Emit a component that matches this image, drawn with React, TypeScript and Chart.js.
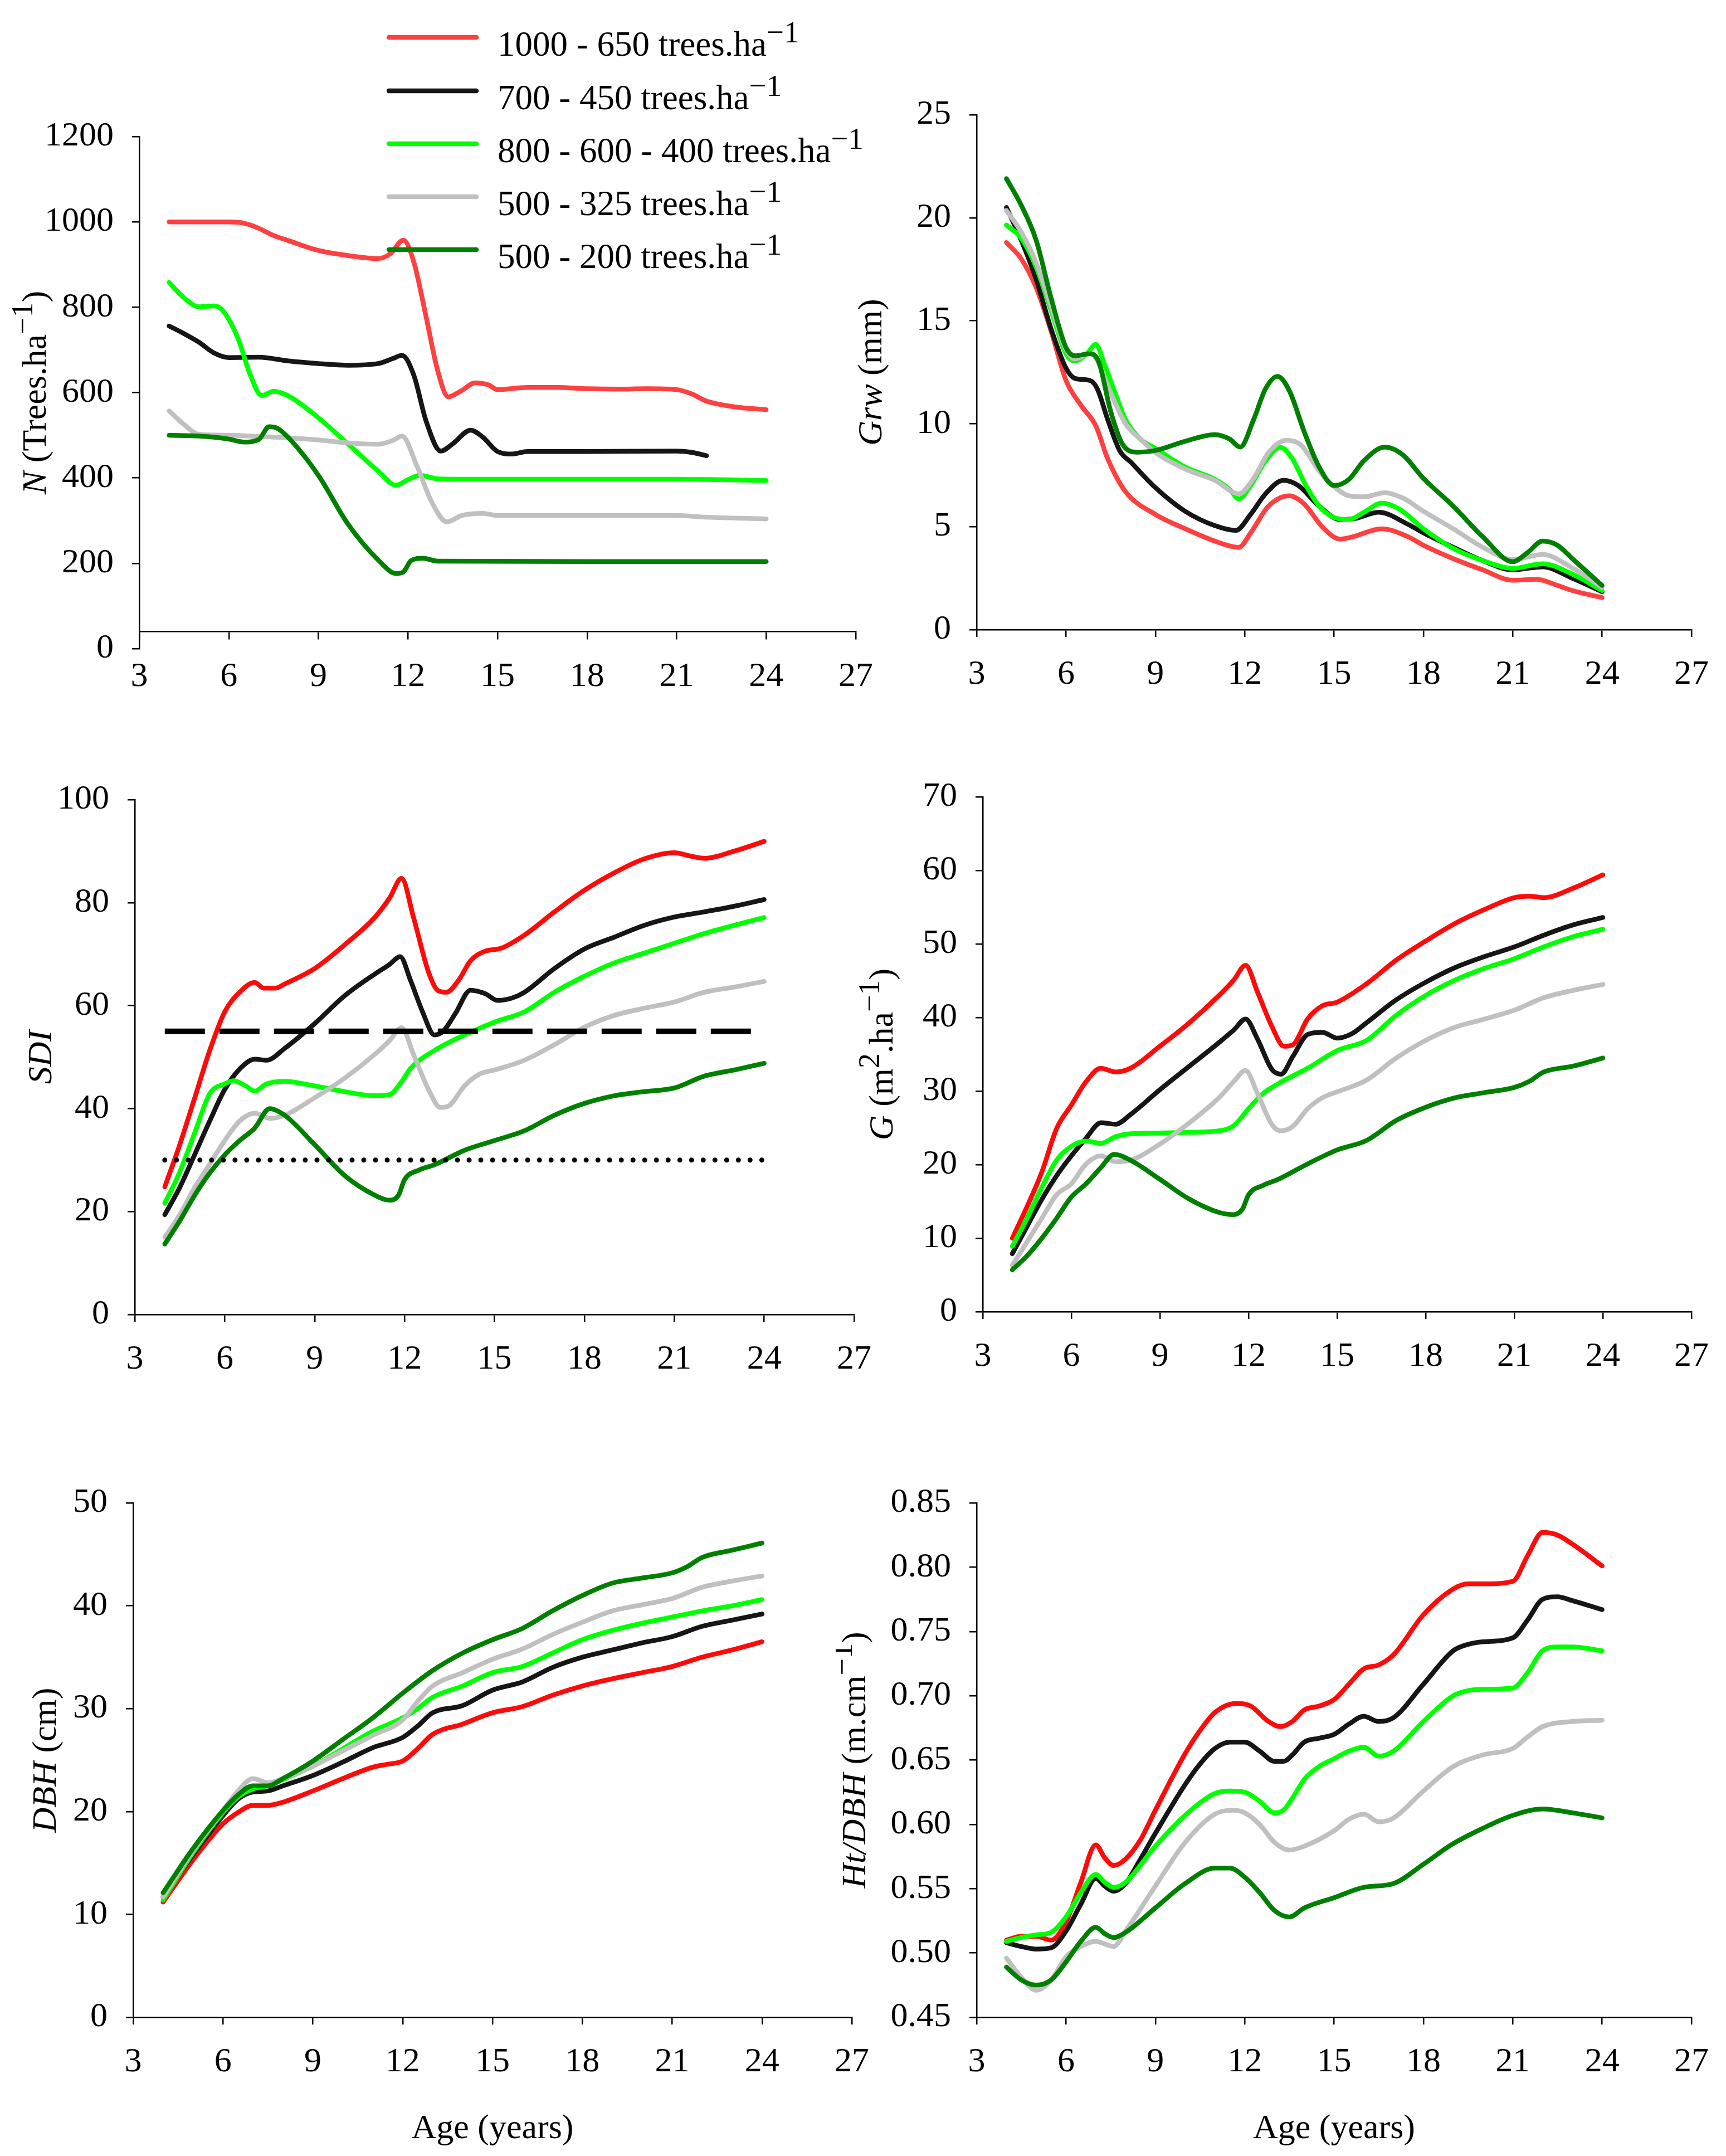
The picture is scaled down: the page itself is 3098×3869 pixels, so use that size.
import React, { useEffect, useRef } from 'react';
import { Chart, registerables } from 'chart.js';

Chart.register(...registerables);

type Pt = [number, number];
type Seg = { t: string; it?: boolean; sup?: boolean };

const FONT = '"Liberation Serif", "Times New Roman", serif';
const TICK_SIZE = 62;
const TITLE_SIZE = 62;
const LEGEND_SIZE = 63;
const LINE_W = 8.5;

// ---------- categories / legend ----------
const SERIES_NAMES = [
  '1000 - 650 trees.ha',
  '700 - 450 trees.ha',
  '800 - 600 - 400 trees.ha',
  '500 - 325 trees.ha',
  '500 - 200 trees.ha',
];
const SERIES_COLORS = ['#ff4040', '#161616', '#00ff00', '#c0c0c0', '#008000'];
const AGE_MIN = 3;
const AGE_MAX = 27;
const AGE_STEP = 3;

// ---------- N (trees/ha) ----------
const nRed: Pt[] = [[4,1000],[5,1000],[6,1000],[6.5,997],[7,985],[7.5,968],[8,956],[9,933],[10,921],[11,914],[11.4,925],[11.85,957],[12.2,905],[12.6,780],[13,650],[13.35,590],[13.8,605],[14.25,623],[14.7,618],[15,607],[16,612],[17,612],[18,609],[19,608],[20,609],[21,607],[21.5,597],[22,580],[23,566],[24,560]];
const nBlack: Pt[] = [[4,756],[4.5,738],[5,718],[5.5,693],[6,682],[7,683],[8,674],[9,668],[10,664],[11,668],[11.5,680],[11.8,687],[12.2,640],[12.6,535],[13.1,463],[13.5,480],[14.1,512],[14.5,496],[15,462],[15.5,456],[16,462],[18,462],[21,463],[21.5,460],[22,452]];
const nLime: Pt[] = [[4,858],[4.5,822],[5,801],[5.5,803],[5.8,792],[6.3,728],[6.7,645],[7.1,593],[7.5,603],[8,592],[9,541],[10,479],[11,416],[11.6,383],[12,396],[12.4,406],[13,398],[14,397],[18,397],[21,397],[24,394]];
const nGray: Pt[] = [[4,557],[4.5,525],[5,502],[6,500],[7,497],[8,494],[9,489],[10,482],[11,479],[11.5,488],[11.8,498],[12.3,428],[12.8,343],[13.3,297],[13.8,312],[14.5,317],[15,312],[18,312],[21,312],[22,308],[24,304]];
const nDark: Pt[] = [[4,500],[5,498],[6,491],[6.5,484],[7,490],[7.35,520],[7.6,517],[8,494],[9,406],[10,291],[11,208],[11.6,176],[11.85,180],[12.1,206],[12.5,212],[13,205],[18,204],[24,204]];

// ---------- Grw (mm) ----------
const gRed: Pt[] = [[4,18.8],[4.5,18.0],[5,16.6],[5.5,14.5],[6,12.1],[6.5,10.9],[7,9.9],[7.4,8.3],[8,6.7],[9,5.6],[10,4.9],[11,4.3],[11.8,4.0],[12.2,4.7],[12.8,6.0],[13.5,6.5],[14,6.1],[14.6,5.0],[15.2,4.4],[15.6,4.5],[16.6,4.9],[17.5,4.5],[18,4.1],[19,3.45],[20,2.9],[21,2.4],[21.8,2.45],[22.5,2.15],[23,1.9],[24,1.56]];
const gBlack: Pt[] = [[4,20.5],[4.5,18.9],[5,17.0],[5.5,14.6],[6,12.7],[6.3,12.2],[6.8,12.1],[7.05,11.7],[7.4,10.2],[7.8,8.7],[8.2,8.1],[9,6.9],[10,5.75],[11,5.05],[11.7,4.82],[12.2,5.6],[12.7,6.6],[13.3,7.25],[13.8,7.0],[14.5,6.0],[15.2,5.35],[15.7,5.4],[16.5,5.7],[17.5,5.1],[18,4.7],[19,4.0],[20,3.35],[21,2.9],[21.5,2.98],[22,3.05],[23,2.5],[24,1.84]];
const gLime: Pt[] = [[4,19.65],[4.5,19.0],[5,17.6],[5.5,15.5],[6,13.4],[6.3,13.05],[6.7,13.4],[7,13.85],[7.3,12.85],[7.7,11.3],[8,10.2],[8.5,9.25],[9,8.8],[10,7.9],[11,7.3],[11.5,6.8],[11.8,6.35],[12.2,7.0],[12.7,8.2],[13.2,8.85],[13.6,8.3],[14,7.15],[14.5,6.0],[15,5.45],[15.5,5.35],[16,5.7],[16.6,6.15],[17.2,5.85],[18,4.9],[19,3.95],[20,3.35],[21,2.98],[22,3.2],[23,2.7],[24,1.9]];
const gGray: Pt[] = [[4,20.35],[4.5,19.3],[5,17.8],[5.5,15.7],[6,13.6],[6.3,13.15],[6.8,13.4],[7,13.2],[7.5,11.5],[8,10.0],[8.5,9.25],[9,8.6],[10,7.8],[11,7.25],[11.8,6.6],[12.3,7.35],[12.8,8.6],[13.4,9.2],[13.9,8.95],[14.5,7.7],[15,6.95],[15.5,6.5],[16,6.45],[16.7,6.65],[17.3,6.4],[18,5.75],[19,4.9],[20,4.0],[21,3.4],[22,3.65],[23,3.0],[24,2.05]];
const gDark: Pt[] = [[4,21.9],[4.5,20.6],[5,18.9],[5.5,16.1],[6,13.7],[6.3,13.3],[6.8,13.4],[7.1,13.0],[7.5,10.6],[7.9,9.0],[8.4,8.62],[9,8.7],[10,9.15],[11,9.47],[11.5,9.25],[11.85,8.87],[12.3,10.2],[12.7,11.7],[13.1,12.3],[13.5,11.6],[14,9.6],[14.5,7.9],[15,7.0],[15.5,7.3],[16,8.2],[16.7,8.87],[17.3,8.5],[18,7.35],[19,6.0],[20,4.5],[21,3.3],[21.5,3.75],[22,4.3],[22.5,4.1],[23,3.45],[24,2.15]];

// ---------- SDI ----------
const sRed: Pt[] = [[4,24.8],[4.5,33],[5,42.1],[5.5,51.3],[6,58.8],[6.5,62.6],[7,64.5],[7.3,63.4],[7.7,63.4],[8,64.2],[9,67.2],[10,71.8],[11,77.1],[11.5,80.9],[11.9,84.7],[12.3,77.1],[12.8,66.5],[13.1,63],[13.4,62.6],[13.8,64.9],[14.2,68.7],[14.7,70.6],[15.2,71.1],[16,73.7],[17,78.2],[18,82.4],[19,85.8],[20,88.5],[21,89.7],[21.5,89.1],[22,88.6],[23,90],[24,91.9]];
const sBlack: Pt[] = [[4,19.4],[4.5,24.7],[5,31.1],[5.5,37.6],[6,43.7],[6.5,47.7],[7,49.6],[7.4,49.4],[8,51.7],[9,56.5],[10,61.9],[11,66.1],[11.5,68],[11.85,69.5],[12.2,64.9],[12.6,58.8],[13,54.3],[13.3,55.1],[13.7,58.5],[14.2,63],[14.7,62.3],[15.1,61],[15.6,61.5],[16,62.6],[17,67.2],[18,71],[19,73.3],[20,75.6],[21,77.2],[22,78.2],[23,79.3],[24,80.6]];
const sLime: Pt[] = [[4,21.6],[4.5,27.7],[5,35.3],[5.5,42.9],[6,44.8],[6.3,45.4],[6.7,44.4],[7,43.4],[7.4,44.8],[8,45.3],[9,44.4],[10,43.3],[11,42.5],[11.5,42.7],[11.9,45.2],[12.2,47.8],[13,51.3],[14,54.3],[15,56.8],[16,58.8],[17,62.6],[18,65.7],[19,68.3],[20,70.2],[21,72.1],[22,74],[23,75.6],[24,77.1]];
const sGray: Pt[] = [[4,15],[4.5,19.4],[5,24.7],[5.5,29.2],[6,33.8],[6.5,37.6],[7,39.1],[7.5,38.1],[8,38.7],[9,42.1],[10,45.9],[11,50.5],[11.5,53.2],[11.9,55.7],[12.3,50.5],[12.8,43.7],[13.2,40.2],[13.5,40.6],[14,44.4],[14.5,46.7],[15,47.5],[16,49.4],[17,52.4],[18,55.8],[19,58.1],[20,59.5],[21,60.7],[22,62.6],[23,63.6],[24,64.7]];
const sDark: Pt[] = [[4,13.7],[4.5,18.2],[5,23.2],[5.5,27.5],[6,31],[6.5,33.8],[7,36.2],[7.5,40],[8,38.7],[9,33],[10,27],[11,23.2],[11.5,22.2],[11.8,23.2],[12,26.2],[12.5,28.1],[13,29.1],[14,31.9],[15,33.8],[16,35.7],[17,38.7],[18,41],[19,42.5],[20,43.3],[21,44],[22,46.3],[23,47.5],[24,48.8]];
const sdiUpper: Pt[] = [[4,55],[24,55]];
const sdiLower: Pt[] = [[4,30],[24,30]];

// ---------- G (m2/ha) ----------
const bRed: Pt[] = [[4,10],[4.5,14.3],[5,19],[5.5,24.9],[6,28.1],[6.5,31.3],[7,33.1],[7.5,32.6],[8,33.1],[9,36.1],[10,39.3],[11,43],[11.5,45.1],[11.9,47.1],[12.3,43.5],[12.8,38.7],[13.2,36.1],[13.5,36.3],[14,39.8],[14.5,41.6],[15,42.1],[16,44.6],[17,47.8],[18,50.4],[19,52.8],[20,54.7],[21,56.3],[21.5,56.5],[22,56.3],[23,57.6],[24,59.4]];
const bBlack: Pt[] = [[4,7.9],[4.5,11.6],[5,15.3],[5.5,18.5],[6,21.2],[6.5,23.6],[7,25.7],[7.5,25.5],[8,26.8],[9,30.2],[10,33.4],[11,36.6],[11.5,38.3],[11.9,39.8],[12.3,37.1],[12.8,32.9],[13.1,32.3],[13.5,34.7],[14,37.7],[14.5,38],[15,37.2],[15.5,37.8],[16,39.3],[17,42.4],[18,44.8],[19,46.8],[20,48.3],[21,49.6],[22,51.2],[23,52.6],[24,53.6]];
const bLime: Pt[] = [[4,8.9],[4.5,12.7],[5,16.9],[5.5,20.6],[6,22.5],[6.5,23.2],[7,22.9],[7.5,23.8],[8,24.2],[9,24.3],[10,24.4],[11,24.6],[11.5,25.3],[12,27.6],[12.5,29.7],[13,31],[14,33.1],[15,35.5],[16,36.9],[17,40.3],[18,43],[19,45.1],[20,46.7],[21,48],[22,49.6],[23,51],[24,52]];
const bGray: Pt[] = [[4,6.3],[4.5,9.5],[5,12.7],[5.5,15.9],[6,17.4],[6.5,20.1],[7,21.2],[7.5,20.4],[8,20.6],[9,22.8],[10,25.7],[11,29.1],[11.5,31.3],[11.9,32.8],[12.3,29.7],[12.8,25.4],[13.1,24.6],[13.5,25.2],[14,27.6],[14.5,29.1],[15,29.9],[16,31.5],[17,34.5],[18,36.9],[19,38.7],[20,39.8],[21,41],[22,42.7],[23,43.7],[24,44.5]];
const bDark: Pt[] = [[4,5.7],[4.5,7.6],[5,10],[5.5,12.7],[6,15.6],[6.5,17.4],[7,19.6],[7.45,21.4],[8,20.6],[9,18],[10,15.3],[11,13.5],[11.5,13.2],[11.8,14],[12,15.9],[12.5,17.2],[13,18],[14,20.1],[15,22],[16,23.3],[17,26],[18,27.8],[19,29.1],[20,29.8],[21,30.5],[21.5,31.3],[22,32.6],[23,33.4],[24,34.5]];

// ---------- DBH (cm) ----------
const dRed: Pt[] = [[4,11.2],[5,15.3],[6,18.8],[6.5,19.9],[7,20.6],[7.5,20.6],[8,20.9],[9,22],[10,23.2],[11,24.3],[11.5,24.6],[12,24.9],[12.5,26.1],[13,27.5],[14,28.5],[15,29.6],[16,30.2],[17,31.3],[18,32.2],[19,32.9],[20,33.5],[21,34.1],[22,35],[23,35.7],[24,36.5]];
const dBlack: Pt[] = [[4,11.7],[5,15.8],[6,19.6],[6.5,21.2],[7,21.9],[7.5,22],[8,22.5],[9,23.5],[10,24.8],[11,26.2],[12,27.2],[12.5,28.3],[13,29.6],[14,30.3],[15,31.8],[16,32.6],[17,34],[18,35],[19,35.7],[20,36.4],[21,37],[22,38],[23,38.6],[24,39.2]];
const dLime: Pt[] = [[4,11.4],[5,16],[6,19.9],[6.5,21.4],[7,22.2],[7.5,22.5],[8,23.1],[9,24.4],[10,26.1],[11,27.8],[12,29.1],[12.5,30],[13,31.1],[14,32.2],[15,33.5],[16,34.1],[17,35.4],[18,36.7],[19,37.6],[20,38.3],[21,38.9],[22,39.5],[23,40],[24,40.6]];
const dGray: Pt[] = [[4,11.7],[5,16.2],[6,20.1],[6.5,22],[7,23.2],[7.5,22.8],[8,23.2],[9,24.4],[10,25.9],[11,27.4],[12,28.9],[12.5,30.7],[13,32.2],[14,33.5],[15,34.8],[16,35.8],[17,37.2],[18,38.4],[19,39.5],[20,40.1],[21,40.7],[22,41.8],[23,42.4],[24,42.9]];
const dDark: Pt[] = [[4,12.1],[5,16.4],[6,20.1],[6.5,21.6],[7,22.5],[7.5,22.5],[8,23.2],[9,24.9],[10,27],[11,29.1],[12,31.5],[13,33.7],[14,35.4],[15,36.7],[16,37.8],[17,39.5],[18,41],[19,42.2],[20,42.7],[21,43.2],[21.5,43.8],[22,44.7],[23,45.4],[24,46.1]];

// ---------- Ht/DBH (m/cm) ----------
const hRed: Pt[] = [[4,0.510],[4.5,0.513],[5,0.513],[5.5,0.510],[6,0.524],[6.5,0.555],[7,0.584],[7.3,0.574],[7.6,0.568],[8,0.573],[8.5,0.588],[9,0.611],[10,0.655],[10.5,0.673],[11,0.687],[11.7,0.694],[12.2,0.692],[12.8,0.680],[13.2,0.676],[13.6,0.680],[14,0.689],[14.5,0.692],[15,0.697],[15.5,0.709],[16,0.721],[16.5,0.724],[17,0.732],[18,0.763],[19,0.783],[19.5,0.787],[20,0.787],[21,0.789],[21.5,0.809],[22,0.827],[22.5,0.825],[23,0.818],[24,0.801]];
const hBlack: Pt[] = [[4,0.508],[4.5,0.505],[5,0.503],[5.5,0.504],[6,0.517],[6.5,0.538],[7,0.558],[7.3,0.552],[7.6,0.548],[8,0.554],[8.5,0.573],[9,0.593],[10,0.631],[10.5,0.647],[11,0.659],[11.5,0.664],[12,0.664],[12.5,0.657],[13,0.649],[13.3,0.649],[13.6,0.654],[14,0.664],[14.5,0.667],[15,0.670],[15.5,0.678],[16,0.684],[16.5,0.680],[17,0.683],[18,0.709],[19,0.735],[19.5,0.740],[20,0.742],[21,0.745],[21.5,0.759],[22,0.775],[22.5,0.777],[23,0.774],[24,0.767]];
const hLime: Pt[] = [[4,0.509],[4.5,0.512],[5,0.514],[5.5,0.516],[6,0.528],[6.5,0.547],[7,0.561],[7.3,0.555],[7.6,0.551],[8,0.555],[9,0.583],[10,0.607],[11,0.624],[11.5,0.626],[12,0.625],[12.5,0.618],[13,0.609],[13.3,0.611],[13.7,0.624],[14,0.635],[14.5,0.645],[15,0.651],[15.5,0.657],[16,0.660],[16.5,0.653],[17,0.657],[18,0.680],[19,0.700],[19.5,0.704],[20,0.705],[21,0.706],[21.5,0.718],[22,0.735],[22.5,0.738],[23,0.738],[24,0.735]];
const hGray: Pt[] = [[4,0.496],[4.5,0.481],[5,0.471],[5.5,0.479],[6,0.497],[6.5,0.505],[7,0.509],[7.3,0.507],[7.6,0.505],[8,0.517],[9,0.552],[10,0.586],[11,0.608],[11.6,0.611],[12,0.609],[12.5,0.600],[13,0.586],[13.5,0.580],[14,0.583],[15,0.595],[15.5,0.604],[16,0.608],[16.5,0.602],[17,0.605],[18,0.626],[19,0.645],[20,0.654],[21,0.659],[21.5,0.668],[22,0.676],[23,0.680],[24,0.681]];
const hDark: Pt[] = [[4,0.489],[4.5,0.479],[5,0.475],[5.5,0.479],[6,0.493],[6.5,0.509],[7,0.520],[7.3,0.515],[7.6,0.512],[8,0.516],[9,0.535],[10,0.554],[11,0.566],[11.5,0.566],[12,0.559],[12.5,0.547],[13,0.533],[13.5,0.528],[14,0.535],[15,0.543],[16,0.551],[17,0.554],[18,0.569],[19,0.585],[20,0.597],[21,0.607],[22,0.612],[23,0.609],[24,0.605]];

// ---------- panel definitions ----------
type Ref = { pts: Pt[]; width: number; dash: number[]; cap: 'butt' | 'round' };
type PanelDef = {
  id: string;
  cx: number; cy: number; cw: number; ch: number;
  L: number; R: number; T: number; B: number;
  yMin: number; yMax: number; yStep: number; yDec: number;
  xAxisAt?: number;
  titleX: number;
  title: Seg[];
  red: string;
  series: Pt[][];
  refs?: Ref[];
  ageTitle?: boolean;
  legend?: boolean;
};

const PANELS: PanelDef[] = [
  {
    id: 'N', cx: 0, cy: 0, cw: 1600, ch: 1300, L: 250, R: 1536, T: 245, B: 1164,
    yMin: 0, yMax: 1200, yStep: 200, yDec: 0, xAxisAt: 40, titleX: 82,
    title: [{ t: 'N', it: true }, { t: ' (Trees.ha' }, { t: '\u22121', sup: true }, { t: ')' }],
    red: '#ff4040', series: [nRed, nBlack, nLime, nGray, nDark], legend: true,
  },
  {
    id: 'Grw', cx: 1500, cy: 0, cw: 1598, ch: 1300, L: 1753, R: 3042, T: 206, B: 1130,
    yMin: 0, yMax: 25, yStep: 5, yDec: 0, titleX: 1582,
    title: [{ t: 'Grw', it: true }, { t: ' (mm)' }],
    red: '#ff4040', series: [gRed, gBlack, gLime, gGray, gDark],
  },
  {
    id: 'SDI', cx: 0, cy: 1300, cw: 1600, ch: 1180, L: 242, R: 1533, T: 1435, B: 2359,
    yMin: 0, yMax: 100, yStep: 20, yDec: 0, titleX: 92,
    title: [{ t: 'SDI', it: true }],
    red: '#ff0a0a', series: [sRed, sBlack, sLime, sGray, sDark],
    refs: [
      { pts: sdiUpper, width: 10, dash: [72, 26], cap: 'butt' },
      { pts: sdiLower, width: 9, dash: [0.01, 21], cap: 'round' },
    ],
  },
  {
    id: 'G', cx: 1500, cy: 1300, cw: 1598, ch: 1180, L: 1764, R: 3055, T: 1430, B: 2354,
    yMin: 0, yMax: 70, yStep: 10, yDec: 0, titleX: 1602,
    title: [{ t: 'G', it: true }, { t: ' (m' }, { t: '2', sup: true }, { t: '.ha' }, { t: '\u22121', sup: true }, { t: ')' }],
    red: '#ff0a0a', series: [bRed, bBlack, bLime, bGray, bDark],
  },
  {
    id: 'DBH', cx: 0, cy: 2480, cw: 1600, ch: 1389, L: 239, R: 1529, T: 2697, B: 3620,
    yMin: 0, yMax: 50, yStep: 10, yDec: 0, titleX: 100,
    title: [{ t: 'DBH', it: true }, { t: ' (cm)' }],
    red: '#ff0a0a', series: [dRed, dBlack, dLime, dGray, dDark], ageTitle: true,
  },
  {
    id: 'HtDBH', cx: 1500, cy: 2480, cw: 1598, ch: 1389, L: 1753, R: 3042, T: 2697, B: 3620,
    yMin: 0.45, yMax: 0.85, yStep: 0.05, yDec: 2, titleX: 1553,
    title: [{ t: 'Ht/DBH', it: true }, { t: ' (m.cm' }, { t: '\u22121', sup: true }, { t: ')' }],
    red: '#ff0a0a', series: [hRed, hBlack, hLime, hGray, hDark], ageTitle: true,
  },
];

const AGE_TITLE = 'Age (years)';
const AGE_TITLE_BASELINE = 3837;
const LEGEND_ROWS_Y = [67, 163, 258, 353, 448];
const LEGEND_LINE_X0 = 698;
const LEGEND_LINE_X1 = 855;
const LEGEND_TEXT_X = 893;

function drawRich(ctx: CanvasRenderingContext2D, segs: Seg[], x: number, y: number, size: number, align: 'left' | 'center') {
  const fontOf = (s: Seg) => `${s.it ? 'italic ' : ''}${Math.round(s.sup ? size * 0.87 : size)}px ${FONT}`;
  let total = 0;
  const widths = segs.map((s) => {
    ctx.font = fontOf(s);
    const w = ctx.measureText(s.t).width;
    total += w;
    return w;
  });
  let cx = align === 'center' ? x - total / 2 : x;
  ctx.textAlign = 'left';
  segs.forEach((s, i) => {
    ctx.font = fontOf(s);
    ctx.fillText(s.t, cx, s.sup ? y - size * 0.38 : y);
    cx += widths[i];
  });
}

function decorPlugin(p: PanelDef) {
  return {
    id: 'decor_' + p.id,
    afterDraw(chart: any) {
      const ctx: CanvasRenderingContext2D = chart.ctx;
      const ca = chart.chartArea;
      ctx.save();
      ctx.fillStyle = '#000';
      ctx.textBaseline = 'alphabetic';
      // y-axis title (rotated)
      ctx.save();
      ctx.translate(p.titleX - p.cx, (ca.top + ca.bottom) / 2);
      ctx.rotate(-Math.PI / 2);
      drawRich(ctx, p.title, 0, 0, TITLE_SIZE, 'center');
      ctx.restore();
      // x-axis title
      if (p.ageTitle) {
        drawRich(ctx, [{ t: AGE_TITLE }], (ca.left + ca.right) / 2, AGE_TITLE_BASELINE - p.cy, TITLE_SIZE, 'center');
      }
      // legend
      if (p.legend) {
        SERIES_NAMES.forEach((name, i) => {
          const y = LEGEND_ROWS_Y[i] - p.cy;
          ctx.beginPath();
          ctx.strokeStyle = SERIES_COLORS[i];
          ctx.lineWidth = LINE_W;
          ctx.lineCap = 'round';
          ctx.moveTo(LEGEND_LINE_X0 - p.cx, y);
          ctx.lineTo(LEGEND_LINE_X1 - p.cx, y);
          ctx.stroke();
          ctx.fillStyle = '#000';
          drawRich(ctx, [{ t: name }, { t: '\u22121', sup: true }], LEGEND_TEXT_X - p.cx, y + 33, LEGEND_SIZE, 'left');
        });
      }
      ctx.restore();
    },
  };
}

function buildConfig(p: PanelDef): any {
  const n = p.series.length;
  const datasets: any[] = p.series.map((pts, i) => ({
    label: SERIES_NAMES[i],
    data: pts.map(([x, y]) => ({ x, y })),
    borderColor: i === 0 ? p.red : SERIES_COLORS[i],
    backgroundColor: i === 0 ? p.red : SERIES_COLORS[i],
    borderWidth: LINE_W,
    pointRadius: 0,
    tension: 0.4,
    cubicInterpolationMode: 'monotone',
    borderCapStyle: 'round',
    borderJoinStyle: 'round',
    fill: false,
    order: n - i,
  }));
  (p.refs || []).forEach((r, k) => {
    datasets.push({
      label: 'ref' + k,
      data: r.pts.map(([x, y]) => ({ x, y })),
      borderColor: '#000',
      borderWidth: r.width,
      borderDash: r.dash,
      borderCapStyle: r.cap,
      pointRadius: 0,
      tension: 0,
      fill: false,
      order: -1,
    });
  });
  const canvasBottom = p.cy + p.ch;
  const tickFont = { family: FONT, size: TICK_SIZE };
  return {
    type: 'line',
    data: { datasets },
    options: {
      animation: false,
      responsive: false,
      maintainAspectRatio: false,
      devicePixelRatio: 1,
      layout: {
        padding: {
          left: 0,
          top: p.T - p.cy,
          right: p.cx + p.cw - p.R,
          bottom: p.xAxisAt != null ? canvasBottom - p.B : 0,
        },
      },
      plugins: { legend: { display: false }, tooltip: { enabled: false }, title: { display: false } },
      scales: {
        x: {
          type: 'linear',
          min: AGE_MIN,
          max: AGE_MAX,
          position: p.xAxisAt != null ? { y: p.xAxisAt } : 'bottom',
          afterFit: (s: any) => { s.height = canvasBottom - p.B; },
          ticks: { stepSize: AGE_STEP, font: tickFont, color: '#000', padding: 31, maxRotation: 0, autoSkip: false },
          grid: { drawOnChartArea: false, drawTicks: true, tickLength: 13, color: '#000', lineWidth: 2.5 },
          border: { display: true, color: '#000', width: 2.5 },
        },
        y: {
          type: 'linear',
          min: p.yMin,
          max: p.yMax,
          position: 'left',
          afterFit: (s: any) => { s.width = p.L - p.cx; },
          ticks: {
            stepSize: p.yStep,
            font: tickFont,
            color: '#000',
            padding: 33,
            autoSkip: false,
            callback: (v: any) => Number(v).toFixed(p.yDec),
          },
          grid: { drawOnChartArea: false, drawTicks: true, tickLength: 13, color: '#000', lineWidth: 2.5 },
          border: { display: true, color: '#000', width: 2.5 },
        },
      },
    },
    plugins: [decorPlugin(p)],
  };
}

function Panel({ p }: { p: PanelDef }) {
  const ref = useRef<HTMLCanvasElement>(null);
  useEffect(() => {
    if (!ref.current) return;
    const chart = new Chart(ref.current, buildConfig(p));
    return () => chart.destroy();
  }, [p]);
  return (
    <canvas
      ref={ref}
      width={p.cw}
      height={p.ch}
      style={{ position: 'absolute', left: p.cx, top: p.cy, width: p.cw, height: p.ch }}
    />
  );
}

export default function App() {
  return (
    <div style={{ position: 'absolute', left: 0, top: 0, width: 3098, height: 3869, background: '#fff' }}>
      {PANELS.map((p) => (
        <Panel key={p.id} p={p} />
      ))}
    </div>
  );
}
